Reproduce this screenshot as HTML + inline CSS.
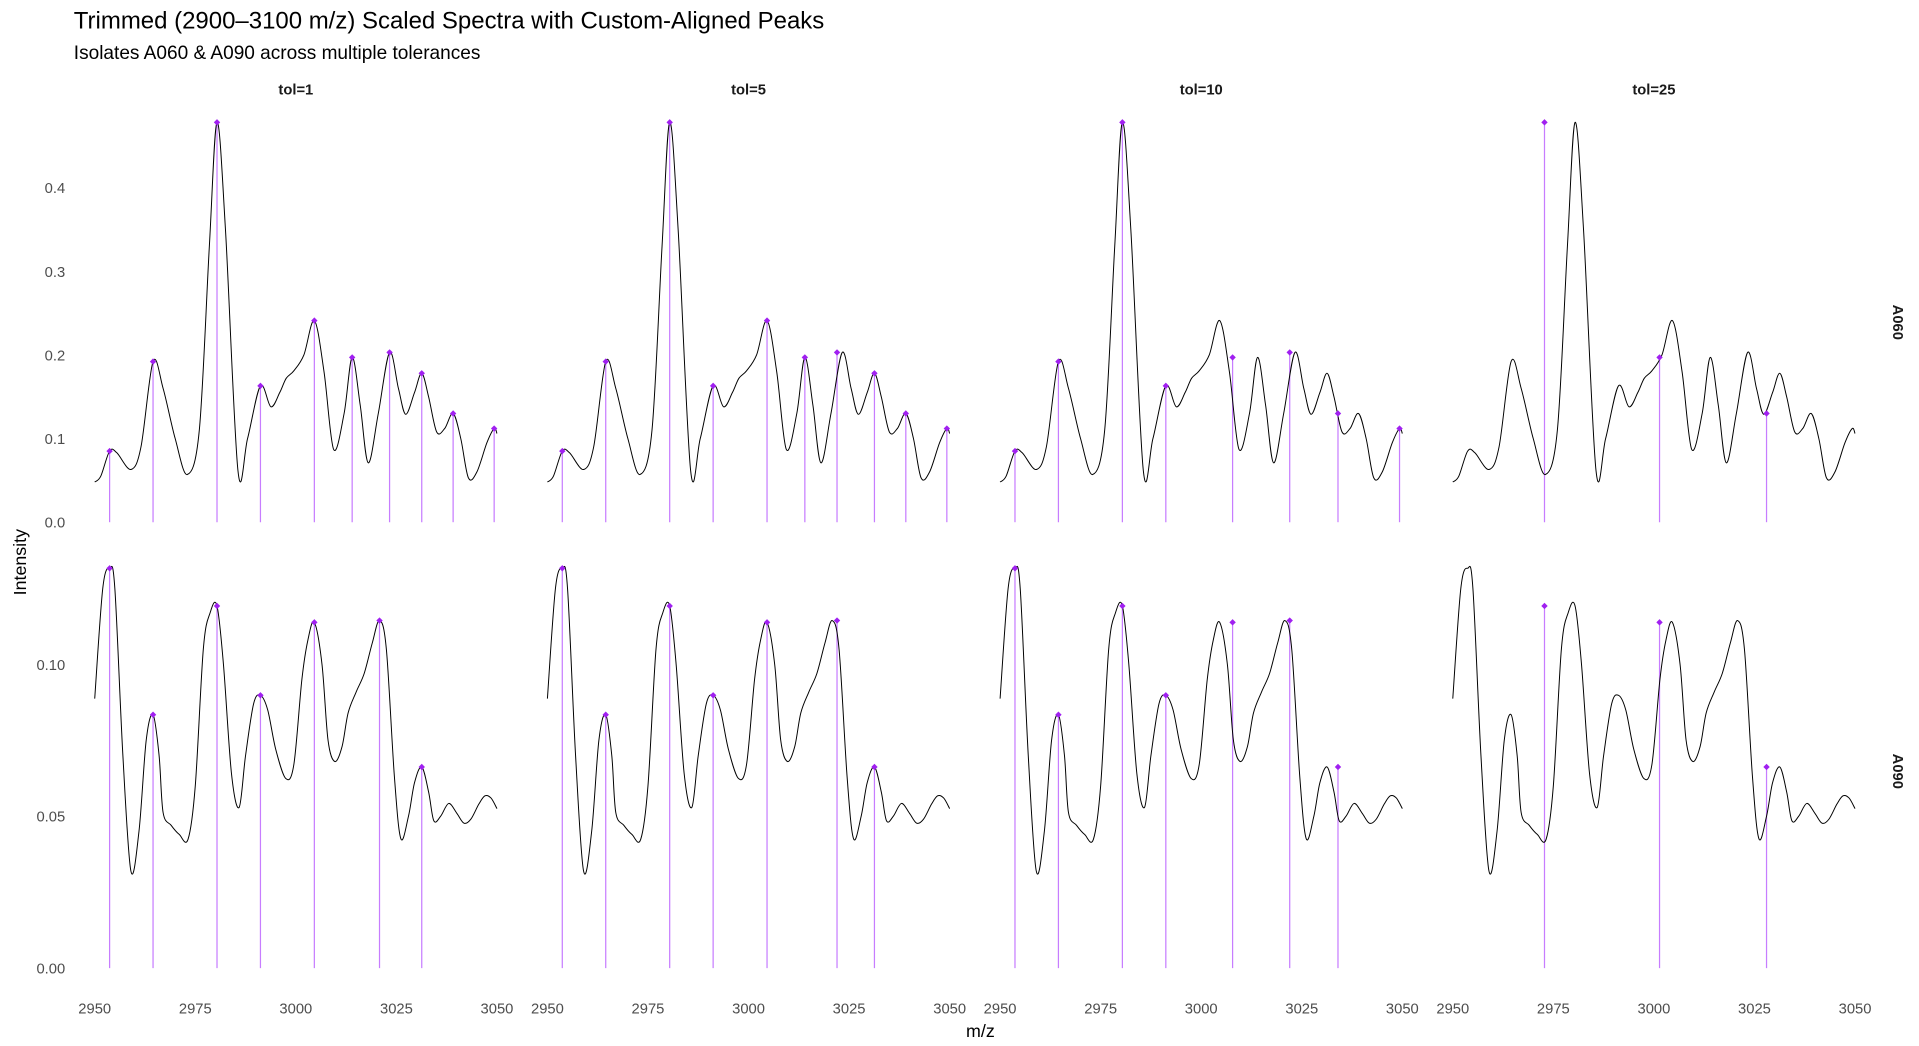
<!DOCTYPE html>
<html><head><meta charset="utf-8"><style>
html,body{margin:0;padding:0;background:#fff;}
svg{display:block;}
text{font-family:"Liberation Sans",Arial,sans-serif;}
</style></head><body>
<svg id="chart" width="1919" height="1046" viewBox="0 0 1560 850.3" xmlns="http://www.w3.org/2000/svg">
<rect width="1560" height="850.3" fill="#fff"/>
<text x="60" y="23" font-size="19.5" fill="#000">Trimmed (2900–3100 m/z) Scaled Spectra with Custom-Aligned Peaks</text>
<text x="60" y="48" font-size="15.5" fill="#000">Isolates A060 &amp; A090 across multiple tolerances</text>
<text x="797" y="843" font-size="14.5" text-anchor="middle" fill="#000">m/z</text>
<text transform="translate(21,457) rotate(-90)" font-size="14.5" text-anchor="middle" fill="#000">Intensity</text>
<g id="plots"></g>
</svg>
<script>
const tolerances = ["tol=1","tol=5","tol=10","tol=25"];
const samples = ["A060","A090"];
const xTicks = [2950,2975,3000,3025,3050];
const yTicksA060 = [0.0,0.1,0.2,0.3,0.4];
const yTickLabelsA060 = ["0.0","0.1","0.2","0.3","0.4"];
const yTicksA090 = [0.00,0.05,0.10];
const yTickLabelsA090 = ["0.00","0.05","0.10"];
const specA060mz = [2950,2951.5,2953.7,2955.5,2959,2961.5,2964.5,2967,2970,2973,2976,2978.5,2980.4,2982.5,2985.6,2988,2991.2,2993.8,2996,2997.6,2999.5,3002,3004.6,3007,3009.4,3012,3014,3016,3018,3020.5,3023.3,3025.5,3027.3,3029.5,3031.3,3033,3035,3037,3039.1,3041,3042.9,3045,3047.5,3049.3,3050];
const specA060val = [0.048,0.055,0.085,0.083,0.063,0.09,0.192,0.16,0.1,0.057,0.11,0.33,0.478,0.35,0.062,0.1,0.163,0.138,0.155,0.172,0.181,0.2,0.241,0.18,0.087,0.13,0.197,0.14,0.071,0.13,0.203,0.16,0.129,0.155,0.178,0.15,0.108,0.112,0.130,0.1,0.053,0.06,0.095,0.112,0.106];
const specA090mz = [2950,2952,2953.7,2955,2957,2959,2961,2962.8,2964.5,2966,2967,2969,2971,2973.2,2975,2977,2978.7,2980.4,2982,2984,2985.9,2987.5,2989.5,2991.2,2993,2995,2997.5,2999.5,3001.5,3003,3004.6,3006.5,3008,3009.7,3011.5,3013,3015,3017,3019,3020.8,3022.5,3024.5,3026.1,3028,3029.5,3031.3,3033,3034.3,3036,3038,3040,3041.8,3043.5,3045.5,3047,3048.5,3050];
const specA090val = [0.0887,0.125,0.1316,0.125,0.07,0.0319,0.045,0.075,0.0834,0.07,0.0512,0.047,0.044,0.0424,0.06,0.105,0.117,0.1192,0.1,0.064,0.0529,0.07,0.087,0.0898,0.085,0.072,0.0624,0.067,0.095,0.108,0.1138,0.1,0.075,0.068,0.073,0.084,0.0909,0.097,0.107,0.1144,0.105,0.063,0.0426,0.05,0.061,0.0662,0.058,0.0485,0.05,0.0542,0.051,0.0477,0.049,0.054,0.0567,0.056,0.0525];
const peaksA060mz = [
 [2953.7,2964.5,2980.4,2991.2,3004.6,3014,3023.3,3031.3,3039.1,3049.3],
 [2953.7,2964.5,2980.4,2991.2,3004.6,3014,3022,3031.3,3039.1,3049.3],
 [2953.7,2964.5,2980.4,2991.2,3007.8,3022,3034,3049.3],
 [2972.8,3001.4,3028]];
const peaksA060val = [
 [0.085,0.192,0.478,0.163,0.241,0.197,0.203,0.178,0.130,0.112],
 [0.085,0.192,0.478,0.163,0.241,0.197,0.203,0.178,0.130,0.112],
 [0.085,0.192,0.478,0.163,0.197,0.203,0.130,0.112],
 [0.478,0.197,0.130]];
const peaksA090mz = [
 [2953.7,2964.5,2980.4,2991.2,3004.6,3020.8,3031.3],
 [2953.7,2964.5,2980.4,2991.2,3004.6,3022,3031.3],
 [2953.7,2964.5,2980.4,2991.2,3007.8,3022,3034],
 [2972.8,3001.4,3028]];
const peaksA090val = [
 [0.1316,0.0834,0.1192,0.0898,0.1138,0.1144,0.0662],
 [0.1316,0.0834,0.1192,0.0898,0.1138,0.1144,0.0662],
 [0.1316,0.0834,0.1192,0.0898,0.1138,0.1144,0.0662],
 [0.1192,0.1138,0.0662]];

const NS="http://www.w3.org/2000/svg";
const root=document.getElementById('plots');
function mk(tag,attrs,parent){const e=document.createElementNS(NS,tag);for(const k in attrs)e.setAttribute(k,attrs[k]);(parent||root).appendChild(e);return e;}
function xScale(col,mz){return 77+368*col+(mz-2950)*3.27;}
const rowCfg=[{y0:424.5,k:680},{y0:787,k:2470}];
function yScale(row,v){return rowCfg[row].y0-v*rowCfg[row].k;}
function smoothPath(pts){
  let d="M"+pts[0][0].toFixed(2)+","+pts[0][1].toFixed(2);
  for(let i=0;i<pts.length-1;i++){
    const p0=pts[Math.max(0,i-1)],p1=pts[i],p2=pts[i+1],p3=pts[Math.min(pts.length-1,i+2)];
    const c1=[p1[0]+(p2[0]-p0[0])/6,p1[1]+(p2[1]-p0[1])/6];
    const c2=[p2[0]-(p3[0]-p1[0])/6,p2[1]-(p3[1]-p1[1])/6];
    d+="C"+c1[0].toFixed(2)+","+c1[1].toFixed(2)+" "+c2[0].toFixed(2)+","+c2[1].toFixed(2)+" "+p2[0].toFixed(2)+","+p2[1].toFixed(2);
  }
  return d;
}
tolerances.forEach((t,c)=>{
  const e=mk('text',{x:xScale(c,3000),y:77,'font-size':12,'font-weight':'bold','text-anchor':'middle',fill:'#1a1a1a'});
  
  
  e.textContent=t;
});
samples.forEach((s,r)=>{
  const cy=r===0?262:627;
  const e=mk('text',{transform:'translate(1539,'+cy+') rotate(90)','font-size':12,'font-weight':'bold','text-anchor':'middle',fill:'#1a1a1a'});
  
  
  e.textContent=s;
});
[[yTicksA060,yTickLabelsA060],[yTicksA090,yTickLabelsA090]].forEach((tk,r)=>{
  tk[0].forEach((v,i)=>{
    const e=mk('text',{x:53,y:yScale(r,v)+4.5,'font-size':12,'text-anchor':'end',fill:'#4d4d4d'});
    
    
    e.textContent=tk[1][i];
  });
});
tolerances.forEach((t,c)=>{
  xTicks.forEach(v=>{
    const e=mk('text',{x:xScale(c,v),y:824,'font-size':12,'text-anchor':'middle',fill:'#4d4d4d'});
    
    
    e.textContent=String(v);
  });
});
const specs=[[specA060mz,specA060val],[specA090mz,specA090val]];
const peaks=[[peaksA060mz,peaksA060val],[peaksA090mz,peaksA090val]];
for(let r=0;r<2;r++){
  for(let c=0;c<4;c++){
    const g=mk('g',{});
    
    
    const pm=peaks[r][0][c],pv=peaks[r][1][c];
    pm.forEach((m,i)=>{
      const x=xScale(c,m);
      const ln=mk('line',{x1:x,x2:x,y1:yScale(r,0),y2:yScale(r,pv[i]),stroke:'#c77dff','stroke-width':1},g);
      
      
    });
    const pts=specs[r][0].map((m,i)=>[xScale(c,m),yScale(r,specs[r][1][i])]);
    const p=mk('path',{d:smoothPath(pts),fill:'none',stroke:'#000','stroke-width':0.8},g);
    
    
    pm.forEach((m,i)=>{
      const x=xScale(c,m),y=yScale(r,pv[i]);
      const d=mk('path',{d:`M${x},${y-2.6}L${x+2.6},${y}L${x},${y+2.6}L${x-2.6},${y}Z`,fill:'#a020f0'},g);
      
      
    });
  }
}
</script>
</body></html>
